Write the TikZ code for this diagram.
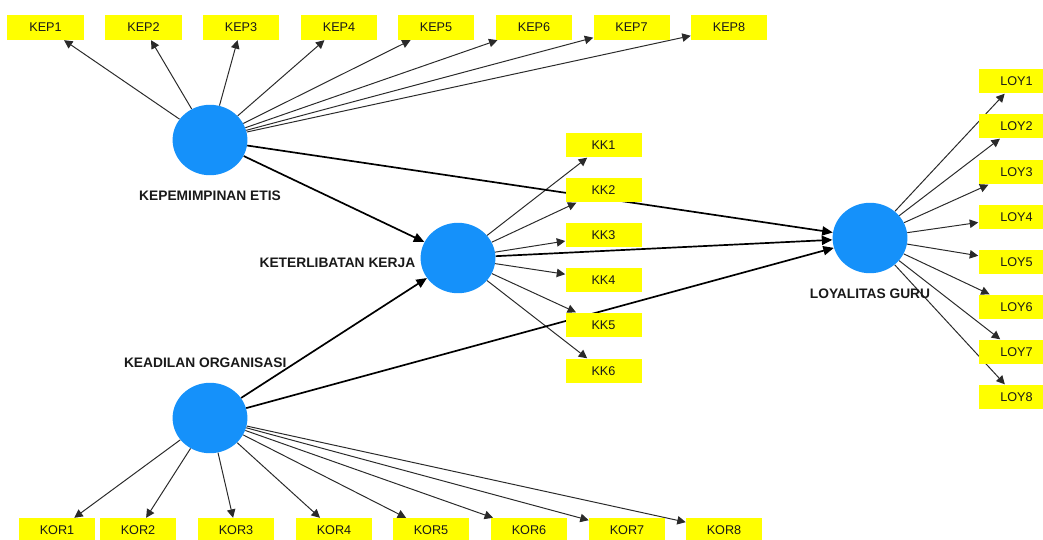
\documentclass[tikz,border=0pt]{standalone}
\usepackage{fontspec}
\setmainfont{Liberation Sans}
\usetikzlibrary{positioning,arrows.meta,backgrounds,shapes.geometric}
\definecolor{lvblue}{HTML}{1591FA}
\definecolor{indyellow}{HTML}{FFFF00}
\definecolor{linegray}{HTML}{2A2A2A}

\begin{document}
\begin{tikzpicture}[x=0.025cm, y=-0.025cm,
    indbox/.style={fill=indyellow, minimum width=1.9cm, minimum height=0.62cm, inner sep=0pt, font=\fontsize{9}{10}\selectfont, text=black!90},
    latent/.style={ellipse, fill=lvblue, minimum width=1.87cm, minimum height=1.76cm, inner sep=0pt},
    lvname/.style={font=\bfseries\fontsize{9.8}{11}\selectfont, inner sep=0pt, text=black!90},
    loading/.style={-{Triangle[length=6pt,width=6pt]}, draw=linegray, line width=0.7pt},
    pathcoef/.style={-{Triangle[length=7.5pt,width=6.5pt]}, line width=1.2pt}]
  \useasboundingbox (0,0) rectangle (1043,539);
  % latent variables
  \node (kep) [latent] at (210,140) {};
  \node (ker) [latent] at (458,258) {};
  \node (kea) [latent] at (210,418) {};
  \node (loy) [latent] at (870,238) {};
  \node (kepname) [lvname, below=0.38cm of kep] {KEPEMIMPINAN ETIS};
  \node (kername) [lvname, left=0.12cm of ker, yshift=-0.12cm] {KETERLIBATAN KERJA};
  \node (keaname) [lvname, above=0.37cm of kea, xshift=-0.12cm] {KEADILAN ORGANISASI};
  \node (loyname) [lvname, below=0.38cm of loy] {LOYALITAS GURU};
  % indicators
  \foreach \i/\x in {1/45.5,2/143.5,3/241,4/339,5/436,6/534,7/631.5,8/729}
    \node (kep\i) [indbox] at (\x,27.5) {KEP\i};
  \foreach \i/\x in {1/57,2/138,3/236,4/334,5/431,6/529,7/627,8/724}
    \node (kor\i) [indbox] at (\x,530.5) {KOR\i};
  \foreach \i/\y in {1/145,2/190,3/235,4/280,5/325,6/371}
    \node (kk\i) [indbox] at (603.5,\y) {KK\i};
  \foreach \i/\y in {1/81,2/126,3/172,4/217,5/262,6/307,7/352,8/397}
    \node (loy\i) [indbox] at (1016.5,\y) {LOY\i};
  % arrows behind the boxes
  \begin{scope}[on background layer]
    \foreach \i in {1,...,8} {
      \draw[loading] (kep) -- (kep\i);
      \draw[loading] (kea) -- (kor\i);
      \draw[loading] (loy) -- (loy\i);
    }
    \foreach \i in {1,...,6}
      \draw[loading] (ker) -- (kk\i);
    \draw[pathcoef] (kep) -- (ker);
    \draw[pathcoef] (kea) -- (ker);
    \draw[pathcoef] (kep) -- (loy);
    \draw[pathcoef] (ker) -- (loy);
    \draw[pathcoef] (kea) -- (loy);
  \end{scope}
\end{tikzpicture}
\end{document}
